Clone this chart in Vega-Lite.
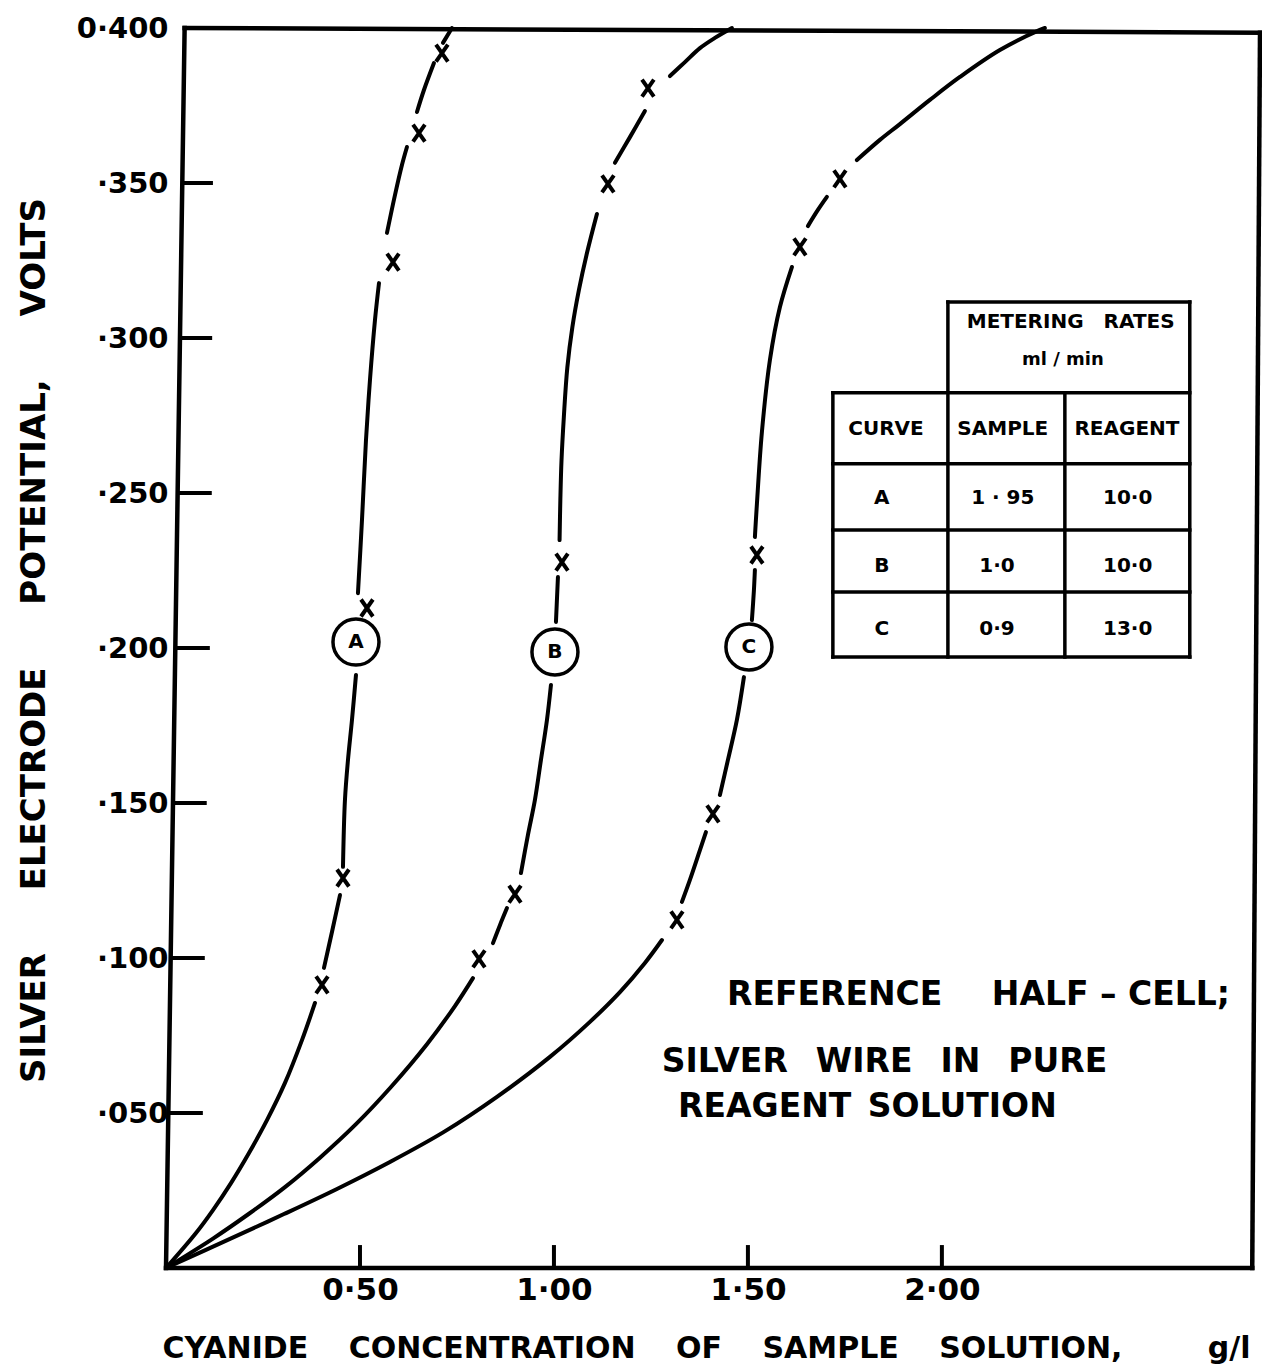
{
  "$schema": "https://vega.github.io/schema/vega-lite/v6.json",
  "width": 1094,
  "height": 1240,
  "autosize": {"type": "none"},
  "padding": {"left": 166, "top": 28, "right": 2, "bottom": 97},
  "background": "white",
  "config": {"view": {"stroke": null}, "font": "DejaVu Sans"},
  "datasets": {
    "frame": [
      {"x": 0, "y": 0, "x2": 0.048, "y2": 0.4},
      {"x": 0.048, "y": 0.4, "x2": 2.82, "y2": 0.3985},
      {"x": 2.8, "y": 0, "x2": 2.82, "y2": 0.3985},
      {"x": 0, "y": 0, "x2": 2.8, "y2": 0}
    ],
    "yticks": [
      {"x": 0.006, "x2": 0.095, "y": 0.05},
      {"x": 0.012, "x2": 0.1, "y": 0.1},
      {"x": 0.018, "x2": 0.105, "y": 0.15},
      {"x": 0.024, "x2": 0.113, "y": 0.2},
      {"x": 0.03, "x2": 0.118, "y": 0.25},
      {"x": 0.036, "x2": 0.119, "y": 0.3},
      {"x": 0.042, "x2": 0.121, "y": 0.35}
    ],
    "xticks": [
      {"x": 0.5, "y": 0, "y2": 0.0074},
      {"x": 1.0, "y": 0, "y2": 0.0074},
      {"x": 1.5, "y": 0, "y2": 0.0074},
      {"x": 2.0, "y": 0, "y2": 0.0074}
    ],
    "curves": [
      {"c": "A", "s": "A1", "x": 0, "y": 0},
      {"c": "A", "s": "A1", "x": 0.0773, "y": 0.0113},
      {"c": "A", "s": "A1", "x": 0.1211, "y": 0.0187},
      {"c": "A", "s": "A1", "x": 0.1675, "y": 0.0274},
      {"c": "A", "s": "A1", "x": 0.2139, "y": 0.0371},
      {"c": "A", "s": "A1", "x": 0.2603, "y": 0.0477},
      {"c": "A", "s": "A1", "x": 0.3067, "y": 0.0597},
      {"c": "A", "s": "A1", "x": 0.3505, "y": 0.0735},
      {"c": "A", "s": "A1", "x": 0.384, "y": 0.0855},
      {"c": "A", "s": "A2", "x": 0.4072, "y": 0.0968},
      {"c": "A", "s": "A2", "x": 0.4278, "y": 0.1084},
      {"c": "A", "s": "A2", "x": 0.4485, "y": 0.1203},
      {"c": "A", "s": "A3", "x": 0.4562, "y": 0.1294},
      {"c": "A", "s": "A3", "x": 0.4613, "y": 0.151},
      {"c": "A", "s": "A3", "x": 0.4691, "y": 0.1639},
      {"c": "A", "s": "A3", "x": 0.4794, "y": 0.1768},
      {"c": "A", "s": "A3", "x": 0.4897, "y": 0.1913},
      {"c": "A", "s": "A4", "x": 0.4948, "y": 0.2177},
      {"c": "A", "s": "A4", "x": 0.5052, "y": 0.2413},
      {"c": "A", "s": "A4", "x": 0.5155, "y": 0.2671},
      {"c": "A", "s": "A4", "x": 0.5258, "y": 0.2865},
      {"c": "A", "s": "A4", "x": 0.5387, "y": 0.3058},
      {"c": "A", "s": "A4", "x": 0.549, "y": 0.3177},
      {"c": "A", "s": "A5", "x": 0.5696, "y": 0.3339},
      {"c": "A", "s": "A5", "x": 0.5902, "y": 0.3461},
      {"c": "A", "s": "A5", "x": 0.6082, "y": 0.3558},
      {"c": "A", "s": "A5", "x": 0.6211, "y": 0.3616},
      {"c": "A", "s": "A6", "x": 0.6469, "y": 0.3729},
      {"c": "A", "s": "A6", "x": 0.6649, "y": 0.38},
      {"c": "A", "s": "A6", "x": 0.6907, "y": 0.3887},
      {"c": "A", "s": "A7", "x": 0.7139, "y": 0.3952},
      {"c": "A", "s": "A7", "x": 0.7371, "y": 0.4},
      {"c": "B", "s": "B1", "x": 0, "y": 0},
      {"c": "B", "s": "B1", "x": 0.1211, "y": 0.0095},
      {"c": "B", "s": "B1", "x": 0.2139, "y": 0.0175},
      {"c": "B", "s": "B1", "x": 0.3067, "y": 0.0261},
      {"c": "B", "s": "B1", "x": 0.3969, "y": 0.0356},
      {"c": "B", "s": "B1", "x": 0.4897, "y": 0.0464},
      {"c": "B", "s": "B1", "x": 0.5799, "y": 0.0584},
      {"c": "B", "s": "B1", "x": 0.6727, "y": 0.0722},
      {"c": "B", "s": "B1", "x": 0.7448, "y": 0.0845},
      {"c": "B", "s": "B1", "x": 0.7912, "y": 0.0935},
      {"c": "B", "s": "B2", "x": 0.8428, "y": 0.1048},
      {"c": "B", "s": "B2", "x": 0.8608, "y": 0.1106},
      {"c": "B", "s": "B2", "x": 0.8789, "y": 0.1161},
      {"c": "B", "s": "B3", "x": 0.9149, "y": 0.1274},
      {"c": "B", "s": "B3", "x": 0.933, "y": 0.1397},
      {"c": "B", "s": "B3", "x": 0.951, "y": 0.151},
      {"c": "B", "s": "B3", "x": 0.9665, "y": 0.1639},
      {"c": "B", "s": "B3", "x": 0.982, "y": 0.1768},
      {"c": "B", "s": "B3", "x": 0.9923, "y": 0.1881},
      {"c": "B", "s": "B4", "x": 1.0052, "y": 0.2084},
      {"c": "B", "s": "B4", "x": 1.0103, "y": 0.2229},
      {"c": "B", "s": "B5", "x": 1.0145, "y": 0.2348},
      {"c": "B", "s": "B5", "x": 1.0165, "y": 0.2477},
      {"c": "B", "s": "B5", "x": 1.0195, "y": 0.2605},
      {"c": "B", "s": "B5", "x": 1.0255, "y": 0.2745},
      {"c": "B", "s": "B5", "x": 1.0345, "y": 0.2905},
      {"c": "B", "s": "B5", "x": 1.0475, "y": 0.3035},
      {"c": "B", "s": "B5", "x": 1.0644, "y": 0.3155},
      {"c": "B", "s": "B5", "x": 1.0851, "y": 0.3274},
      {"c": "B", "s": "B5", "x": 1.1108, "y": 0.34},
      {"c": "B", "s": "B6", "x": 1.1572, "y": 0.3565},
      {"c": "B", "s": "B6", "x": 1.1959, "y": 0.3648},
      {"c": "B", "s": "B6", "x": 1.2345, "y": 0.3732},
      {"c": "B", "s": "B7", "x": 1.299, "y": 0.3845},
      {"c": "B", "s": "B7", "x": 1.3376, "y": 0.389},
      {"c": "B", "s": "B7", "x": 1.3763, "y": 0.3935},
      {"c": "B", "s": "B7", "x": 1.4149, "y": 0.3968},
      {"c": "B", "s": "B7", "x": 1.4588, "y": 0.4},
      {"c": "C", "s": "C1", "x": 0, "y": 0},
      {"c": "C", "s": "C1", "x": 0.1649, "y": 0.0094},
      {"c": "C", "s": "C1", "x": 0.3041, "y": 0.0174},
      {"c": "C", "s": "C1", "x": 0.4407, "y": 0.0255},
      {"c": "C", "s": "C1", "x": 0.5773, "y": 0.0342},
      {"c": "C", "s": "C1", "x": 0.7165, "y": 0.0439},
      {"c": "C", "s": "C1", "x": 0.8531, "y": 0.0552},
      {"c": "C", "s": "C1", "x": 0.9897, "y": 0.0681},
      {"c": "C", "s": "C1", "x": 1.0928, "y": 0.0794},
      {"c": "C", "s": "C1", "x": 1.1701, "y": 0.0890},
      {"c": "C", "s": "C1", "x": 1.2345, "y": 0.0984},
      {"c": "C", "s": "C1", "x": 1.2784, "y": 0.1058},
      {"c": "C", "s": "C2", "x": 1.3299, "y": 0.1181},
      {"c": "C", "s": "C2", "x": 1.3505, "y": 0.1252},
      {"c": "C", "s": "C2", "x": 1.3763, "y": 0.1348},
      {"c": "C", "s": "C2", "x": 1.3918, "y": 0.1406},
      {"c": "C", "s": "C3", "x": 1.4278, "y": 0.1526},
      {"c": "C", "s": "C3", "x": 1.4485, "y": 0.1639},
      {"c": "C", "s": "C3", "x": 1.4716, "y": 0.1768},
      {"c": "C", "s": "C3", "x": 1.4897, "y": 0.1906},
      {"c": "C", "s": "C4", "x": 1.5103, "y": 0.209},
      {"c": "C", "s": "C4", "x": 1.5155, "y": 0.2187},
      {"c": "C", "s": "C4", "x": 1.518, "y": 0.2252},
      {"c": "C", "s": "C5", "x": 1.518, "y": 0.2358},
      {"c": "C", "s": "C5", "x": 1.5206, "y": 0.2413},
      {"c": "C", "s": "C5", "x": 1.5232, "y": 0.2465},
      {"c": "C", "s": "C5", "x": 1.5361, "y": 0.2697},
      {"c": "C", "s": "C5", "x": 1.5567, "y": 0.2929},
      {"c": "C", "s": "C5", "x": 1.5825, "y": 0.31},
      {"c": "C", "s": "C5", "x": 1.6134, "y": 0.3229},
      {"c": "C", "s": "C6", "x": 1.6546, "y": 0.3361},
      {"c": "C", "s": "C6", "x": 1.6804, "y": 0.3413},
      {"c": "C", "s": "C6", "x": 1.7036, "y": 0.3455},
      {"c": "C", "s": "C7", "x": 1.7809, "y": 0.3574},
      {"c": "C", "s": "C7", "x": 1.8402, "y": 0.3639},
      {"c": "C", "s": "C7", "x": 1.8918, "y": 0.369},
      {"c": "C", "s": "C7", "x": 1.9691, "y": 0.3768},
      {"c": "C", "s": "C7", "x": 2.0464, "y": 0.3842},
      {"c": "C", "s": "C7", "x": 2.1495, "y": 0.3929},
      {"c": "C", "s": "C7", "x": 2.2526, "y": 0.3994},
      {"c": "C", "s": "C7", "x": 2.2655, "y": 0.4}
    ],
    "markers": [
      {"c": "A", "x": 0.4021, "y": 0.0913},
      {"c": "A", "x": 0.4562, "y": 0.1258},
      {"c": "A", "x": 0.518, "y": 0.2129},
      {"c": "A", "x": 0.5851, "y": 0.3245},
      {"c": "A", "x": 0.6521, "y": 0.3661},
      {"c": "A", "x": 0.7113, "y": 0.3919},
      {"c": "B", "x": 0.8067, "y": 0.0997},
      {"c": "B", "x": 0.8995, "y": 0.1206},
      {"c": "B", "x": 1.0206, "y": 0.2277},
      {"c": "B", "x": 1.1392, "y": 0.3497},
      {"c": "B", "x": 1.2423, "y": 0.3806},
      {"c": "C", "x": 1.317, "y": 0.1123},
      {"c": "C", "x": 1.4098, "y": 0.1465},
      {"c": "C", "x": 1.5232, "y": 0.23},
      {"c": "C", "x": 1.634, "y": 0.3294},
      {"c": "C", "x": 1.7371, "y": 0.3513}
    ],
    "circles": [
      {"c": "A", "x": 0.4897, "y": 0.2019},
      {"c": "B", "x": 1.0026, "y": 0.1987},
      {"c": "C", "x": 1.5026, "y": 0.2003}
    ],
    "tablelines": [
      {"x": 1.719, "x2": 1.719, "y": 0.2823, "y2": 0.1971},
      {"x": 2.0155, "x2": 2.0155, "y": 0.3116, "y2": 0.1971},
      {"x": 2.317, "x2": 2.317, "y": 0.2823, "y2": 0.1971},
      {"x": 2.639, "x2": 2.639, "y": 0.3116, "y2": 0.1971},
      {"x": 2.0155, "x2": 2.639, "y": 0.3116, "y2": 0.3116},
      {"x": 1.719, "x2": 2.639, "y": 0.2823, "y2": 0.2823},
      {"x": 1.719, "x2": 2.639, "y": 0.2594, "y2": 0.2594},
      {"x": 1.719, "x2": 2.639, "y": 0.2381, "y2": 0.2381},
      {"x": 1.719, "x2": 2.639, "y": 0.2181, "y2": 0.2181},
      {"x": 1.719, "x2": 2.639, "y": 0.1971, "y2": 0.1971}
    ],
    "tablehead": [
      {"t": "METERING\u2003RATES", "x": 2.332, "y": 0.3052}
    ],
    "tableunit": [
      {"t": "ml / min", "x": 2.312, "y": 0.2929}
    ],
    "tablecells": [
      {"t": "CURVE", "x": 1.856, "y": 0.2706},
      {"t": "SAMPLE", "x": 2.157, "y": 0.2706},
      {"t": "REAGENT", "x": 2.477, "y": 0.2706},
      {"t": "A", "x": 1.845, "y": 0.2484},
      {"t": "1 · 95", "x": 2.157, "y": 0.2484},
      {"t": "10·0", "x": 2.479, "y": 0.2484},
      {"t": "B", "x": 1.845, "y": 0.2265},
      {"t": "1·0", "x": 2.142, "y": 0.2265},
      {"t": "10·0", "x": 2.479, "y": 0.2265},
      {"t": "C", "x": 1.845, "y": 0.2061},
      {"t": "0·9", "x": 2.142, "y": 0.2061},
      {"t": "13·0", "x": 2.479, "y": 0.2061}
    ],
    "notes": [
      {"t": "REFERENCE\u2003\u2002HALF – CELL;", "x": 1.446, "y": 0.0881},
      {"t": "SILVER\u2002 WIRE\u2002 IN\u2002 PURE", "x": 1.278, "y": 0.0665},
      {"t": "REAGENT\u2002SOLUTION", "x": 1.32, "y": 0.0519}
    ]
  },
  "layer": [
    {
      "data": {"name": "frame"},
      "mark": {"type": "rule", "color": "black", "strokeWidth": 4.5, "strokeCap": "square"},
      "encoding": {
        "x": {
          "field": "x", "type": "quantitative",
          "scale": {"domain": [0, 2.82], "nice": false, "zero": false},
          "axis": {
            "values": [0.5, 1, 1.5, 2],
            "labelExpr": "replace(format(datum.value, '.2f'), '.', '·')",
            "domain": false, "ticks": false, "grid": false,
            "labelFont": "DejaVu Sans", "labelFontWeight": "bold", "labelFontSize": 31,
            "labelColor": "black", "labelPadding": 7, "labelFlush": false, "labelOverlap": false,
            "title": "CYANIDE\u2003 CONCENTRATION\u2003 OF\u2003 SAMPLE\u2003 SOLUTION,\u2003\u2003\u2002 g/l",
            "titleFont": "DejaVu Sans", "titleFontWeight": "bold", "titleFontSize": 30,
            "titleColor": "black", "titleX": -4, "titleY": 89, "titleAlign": "left",
            "titleAnchor": "start", "titleBaseline": "alphabetic"
          }
        },
        "y": {
          "field": "y", "type": "quantitative",
          "scale": {"domain": [0, 0.4], "nice": false, "zero": false},
          "axis": {
            "values": [0.05, 0.1, 0.15, 0.2, 0.25, 0.3, 0.35, 0.4],
            "labelExpr": "datum.value > 0.39 ? '0·400' : '·' + substring(format(datum.value, '.3f'), 2)",
            "domain": false, "ticks": false, "grid": false,
            "labelFont": "DejaVu Sans", "labelFontWeight": "bold", "labelFontSize": 29,
            "labelColor": "black", "labelPadding": -2, "labelFlush": false, "labelOverlap": false,
            "title": "SILVER\u2003\u2002 ELECTRODE\u2003\u2002 POTENTIAL,\u2003\u2002 VOLTS",
            "titleFont": "DejaVu Sans", "titleFontWeight": "bold", "titleFontSize": 34,
            "titleColor": "black", "titleX": -122, "titleY": 612, "titleAlign": "center",
            "titleAngle": 270, "titleBaseline": "alphabetic"
          }
        },
        "x2": {"field": "x2"},
        "y2": {"field": "y2"}
      }
    },
    {
      "data": {"name": "yticks"},
      "mark": {"type": "rule", "color": "black", "strokeWidth": 4},
      "encoding": {
        "x": {"field": "x", "type": "quantitative"},
        "x2": {"field": "x2"},
        "y": {"field": "y", "type": "quantitative"}
      }
    },
    {
      "data": {"name": "xticks"},
      "mark": {"type": "rule", "color": "black", "strokeWidth": 4},
      "encoding": {
        "x": {"field": "x", "type": "quantitative"},
        "y": {"field": "y", "type": "quantitative"},
        "y2": {"field": "y2"}
      }
    },
    {
      "data": {"name": "curves"},
      "mark": {"type": "line", "color": "black", "strokeWidth": 4, "interpolate": "catmull-rom", "strokeCap": "round"},
      "encoding": {
        "x": {"field": "x", "type": "quantitative"},
        "y": {"field": "y", "type": "quantitative"},
        "detail": {"field": "s", "type": "nominal"},
        "order": {"field": "y", "type": "quantitative"}
      }
    },
    {
      "data": {"name": "markers"},
      "mark": {"type": "point", "shape": "M-0.7,-1L0.7,1M-0.7,1L0.7,-1", "size": 289, "filled": false, "stroke": "black", "strokeWidth": 4, "opacity": 1},
      "encoding": {
        "x": {"field": "x", "type": "quantitative"},
        "y": {"field": "y", "type": "quantitative"}
      }
    },
    {
      "data": {"name": "circles"},
      "mark": {"type": "point", "shape": "circle", "size": 2116, "filled": false, "stroke": "black", "strokeWidth": 3.5, "opacity": 1},
      "encoding": {
        "x": {"field": "x", "type": "quantitative"},
        "y": {"field": "y", "type": "quantitative"}
      }
    },
    {
      "data": {"name": "circles"},
      "mark": {"type": "text", "font": "DejaVu Sans", "fontWeight": "bold", "fontSize": 20, "color": "black", "align": "center", "baseline": "middle"},
      "encoding": {
        "x": {"field": "x", "type": "quantitative"},
        "y": {"field": "y", "type": "quantitative"},
        "text": {"field": "c"}
      }
    },
    {
      "data": {"name": "tablelines"},
      "mark": {"type": "rule", "color": "black", "strokeWidth": 3.5, "strokeCap": "square"},
      "encoding": {
        "x": {"field": "x", "type": "quantitative"},
        "x2": {"field": "x2"},
        "y": {"field": "y", "type": "quantitative"},
        "y2": {"field": "y2"}
      }
    },
    {
      "data": {"name": "tablehead"},
      "mark": {"type": "text", "font": "DejaVu Sans", "fontWeight": "bold", "fontSize": 20, "color": "black", "align": "center", "baseline": "middle"},
      "encoding": {
        "x": {"field": "x", "type": "quantitative"},
        "y": {"field": "y", "type": "quantitative"},
        "text": {"field": "t"}
      }
    },
    {
      "data": {"name": "tableunit"},
      "mark": {"type": "text", "font": "DejaVu Sans", "fontWeight": "bold", "fontSize": 18, "color": "black", "align": "center", "baseline": "middle"},
      "encoding": {
        "x": {"field": "x", "type": "quantitative"},
        "y": {"field": "y", "type": "quantitative"},
        "text": {"field": "t"}
      }
    },
    {
      "data": {"name": "tablecells"},
      "mark": {"type": "text", "font": "DejaVu Sans", "fontWeight": "bold", "fontSize": 20, "color": "black", "align": "center", "baseline": "middle"},
      "encoding": {
        "x": {"field": "x", "type": "quantitative"},
        "y": {"field": "y", "type": "quantitative"},
        "text": {"field": "t"}
      }
    },
    {
      "data": {"name": "notes"},
      "mark": {"type": "text", "font": "DejaVu Sans", "fontWeight": "bold", "fontSize": 33, "color": "black", "align": "left", "baseline": "middle"},
      "encoding": {
        "x": {"field": "x", "type": "quantitative"},
        "y": {"field": "y", "type": "quantitative"},
        "text": {"field": "t"}
      }
    }
  ]
}
